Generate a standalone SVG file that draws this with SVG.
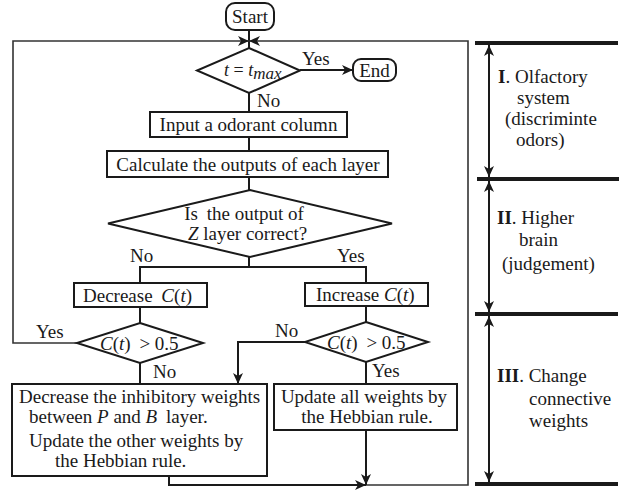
<svg xmlns="http://www.w3.org/2000/svg" width="629" height="494" viewBox="0 0 629 494">
<style>
text{font-family:"Liberation Serif","Times New Roman",serif;font-size:19px;fill:#1a1a1a}
.i{font-style:italic}
.b{font-weight:bold}
.box{fill:#fff;stroke:#1a1a1a;stroke-width:2}
.ln{fill:none;stroke:#1a1a1a;stroke-width:2}
.fr{fill:none;stroke:#333;stroke-width:1.6}
.bar{stroke:#1a1a1a;stroke-width:4}
</style>
<defs>
<marker id="ah" markerUnits="userSpaceOnUse" markerWidth="12" markerHeight="10" refX="11" refY="5" orient="auto-start-reverse">
<path d="M0,0 L11,5 L0,10 L3,5 z" fill="#1a1a1a"/>
</marker>
</defs>
<g id="connectors">
<path class="ln" d="M249,30 V48"/>
<path class="fr" d="M77,343 H13 V41 H249" marker-end="url(#ah)"/>
<path class="fr" d="M366,485 H468 V41 H249" marker-end="url(#ah)"/>
<path class="ln" d="M169,476 V485 H366" marker-end="url(#ah)"/>
<path class="ln" d="M300,70 H353" marker-end="url(#ah)"/>
<path class="ln" d="M249,93 V112"/>
<path class="ln" d="M249,137 V151"/>
<path class="ln" d="M249,177 V190"/>
<path class="ln" d="M249,257 V267 M140,283 V267 H366 V283"/>
<path class="ln" d="M140,307 V323"/>
<path class="ln" d="M140,363 V384"/>
<path class="ln" d="M366,306 V322"/>
<path class="ln" d="M305,342 H238 V384" marker-end="url(#ah)"/>
<path class="ln" d="M366,362 V384"/>
<path class="ln" d="M366,430 V485" marker-end="url(#ah)"/>
<text x="302" y="65">Yes</text>
<text x="257" y="107">No</text>
<text x="130" y="262">No</text>
<text x="337" y="262">Yes</text>
<text x="36" y="338">Yes</text>
<text x="153" y="378">No</text>
<text x="275" y="337">No</text>
<text x="372" y="377">Yes</text>
</g>
<g id="start">
<rect class="box" x="226" y="3" width="48" height="27" rx="9"/>
<text x="250" y="23" text-anchor="middle">Start</text>
</g>
<g id="end">
<rect class="box" x="353" y="59" width="43" height="22" rx="8"/>
<text x="374.5" y="76.5" text-anchor="middle">End</text>
</g>
<g id="check-tmax">
<polygon class="box" points="249,48 300,70.5 249,93 197,70.5"/>
<text x="224" y="76" style="font-size:18px"><tspan class="i">t</tspan> = <tspan class="i">t</tspan><tspan class="i" dy="3" style="font-size:17px">max</tspan></text>
</g>
<g id="input">
<rect class="box" x="150" y="112" width="197" height="25"/>
<text x="248.5" y="131" text-anchor="middle">Input a odorant column</text>
</g>
<g id="calculate">
<rect class="box" x="107" y="151" width="281" height="26"/>
<text x="248" y="170.5" text-anchor="middle">Calculate the outputs of each layer</text>
</g>
<g id="check-output">
<polygon class="box" points="250,190 392,223.5 250,257 108,223.5"/>
<text x="244" y="220" text-anchor="middle">Is <tspan dx="4">the output of</tspan></text>
<text x="247.5" y="240" text-anchor="middle"><tspan class="i">Z</tspan> layer correct?</text>
</g>
<g id="decrease">
<rect class="box" x="74" y="283" width="133" height="24"/>
<text x="83" y="301.5">Decrease <tspan class="i" dx="4">C</tspan>(<tspan class="i">t</tspan>)</text>
</g>
<g id="increase">
<rect class="box" x="305" y="283" width="123" height="23"/>
<text x="316" y="301">Increase <tspan class="i">C</tspan>(<tspan class="i">t</tspan>)</text>
</g>
<g id="check-c-left">
<polygon class="box" points="140,323 203,343 140,363 77,343"/>
<text x="100" y="350"><tspan class="i">C</tspan>(<tspan class="i">t</tspan>) <tspan dx="4">&gt; 0.5</tspan></text>
</g>
<g id="check-c-right">
<polygon class="box" points="366,322 428,342 366,362 305,342"/>
<text x="327" y="349"><tspan class="i">C</tspan>(<tspan class="i">t</tspan>) <tspan dx="4">&gt; 0.5</tspan></text>
</g>
<g id="decrease-weights">
<rect class="box" x="12" y="384" width="255" height="92"/>
<text x="19" y="403">Decrease the inhibitory weights</text>
<text x="29" y="423">between <tspan class="i">P</tspan> and <tspan class="i">B</tspan> <tspan dx="4">layer.</tspan></text>
<text x="29" y="447">Update the other weights by</text>
<text x="55" y="467">the Hebbian rule.</text>
</g>
<g id="update-all">
<rect class="box" x="274" y="384" width="183" height="46"/>
<text x="364" y="403" text-anchor="middle">Update all weights by</text>
<text x="367" y="423" text-anchor="middle">the Hebbian rule.</text>
</g>
<g id="stages">
<line class="bar" x1="475" y1="43" x2="618" y2="43"/>
<line class="bar" x1="477" y1="179" x2="619" y2="179"/>
<line class="bar" x1="475" y1="314" x2="618" y2="314"/>
<line class="bar" x1="475" y1="484" x2="618" y2="484"/>
<line class="ln" x1="489" y1="45" x2="489" y2="177" marker-start="url(#ah)" marker-end="url(#ah)"/>
<line class="ln" x1="489" y1="181" x2="489" y2="312" marker-start="url(#ah)" marker-end="url(#ah)"/>
<line class="ln" x1="489" y1="316" x2="489" y2="482" marker-start="url(#ah)" marker-end="url(#ah)"/>
<text x="498" y="83"><tspan class="b">I</tspan>. Olfactory</text>
<text x="517" y="104">system</text>
<text x="505" y="125">(discriminte</text>
<text x="516" y="146">odors)</text>
<text x="497" y="224"><tspan class="b">II</tspan>. Higher</text>
<text x="519" y="246">brain</text>
<text x="502" y="270">(judgement)</text>
<text x="497" y="382"><tspan class="b">III</tspan>. Change</text>
<text x="529" y="405">connective</text>
<text x="529" y="427">weights</text>
</g>
</svg>
